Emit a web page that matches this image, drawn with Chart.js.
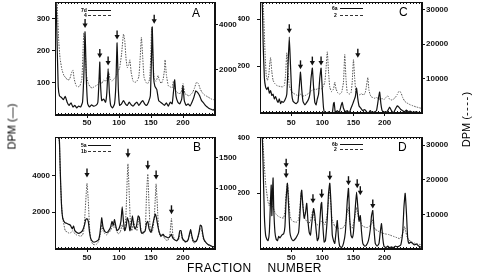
<!DOCTYPE html>
<html>
<head>
<meta charset="utf-8">
<script src="https://cdn.jsdelivr.net/npm/chart.js@4.4.1/dist/chart.umd.min.js"></script>
<style>
  body { margin:0; background:#fff; }
  #wrap { position:relative; width:478px; height:278px; overflow:hidden; background:#fff; font-family:"Liberation Sans", Arial, sans-serif; color:#000; }
  canvas { position:absolute; }
  .txt { position:absolute; line-height:1; white-space:nowrap; }
  .letter { font-size:12px; }
  .leg { font-size:5px; font-weight:bold; }
  .ln { position:absolute; height:0; width:23px; border-top:1px solid #111; }
  .ln.d { border-top:1px dashed #333; }
</style>
</head>
<body>
<div id="wrap">
  <canvas id="cA" width="240" height="128" style="left:0;top:0"></canvas>
  <canvas id="cC" width="240" height="128" style="left:238px;top:0"></canvas>
  <canvas id="cB" width="240" height="150" style="left:0;top:128px"></canvas>
  <canvas id="cD" width="240" height="150" style="left:238px;top:128px"></canvas>

  <div class="txt letter" style="left:192px;top:7px">A</div>
  <div class="txt letter" style="left:399px;top:6px">C</div>
  <div class="txt letter" style="left:193px;top:141px">B</div>
  <div class="txt letter" style="left:398px;top:141px">D</div>

  <div class="txt leg" style="left:81px;top:8px">7d</div><div class="ln" style="left:88px;top:10px"></div>
  <div class="txt leg" style="left:84px;top:13px">4</div><div class="ln d" style="left:88px;top:15px"></div>
  <div class="txt leg" style="left:332px;top:6px">6a</div><div class="ln" style="left:340px;top:8px"></div>
  <div class="txt leg" style="left:334px;top:13px">2</div><div class="ln d" style="left:340px;top:15px"></div>
  <div class="txt leg" style="left:81px;top:143px">5a</div><div class="ln" style="left:88px;top:145px"></div>
  <div class="txt leg" style="left:81px;top:149px">1b</div><div class="ln d" style="left:88px;top:151px"></div>
  <div class="txt leg" style="left:332px;top:142px">6b</div><div class="ln" style="left:340px;top:144px"></div>
  <div class="txt leg" style="left:334px;top:147px">2</div><div class="ln d" style="left:340px;top:149px"></div>

  <div class="txt" style="left:-13px;top:121px;font-size:11px;transform:rotate(-90deg);width:50px;text-align:center">DPM (—)</div>
  <div class="txt" style="left:435px;top:114px;font-size:11px;transform:rotate(-90deg);width:62px;text-align:center">DPM (<span style="letter-spacing:1.5px">----</span>)</div>
  <div class="txt" style="left:187px;top:262px;font-size:12px;letter-spacing:0.4px">FRACTION<span style="display:inline-block;width:16px"></span>NUMBER</div>
</div>

<script>
// ── tick labels ──
const X_TICKS = [50, 100, 150, 200];
const LEFT_TICKS_A = [100, 200, 300];
const RIGHT_TICKS_A = [2000, 4000];
const LEFT_TICKS_B = [2000, 4000];
const RIGHT_TICKS_B = [500, 1000, 1500];
const LEFT_TICKS_C = [200, 400];
const RIGHT_TICKS_C = [10000, 20000, 30000];
const LEFT_TICKS_D = [200, 400];
const RIGHT_TICKS_D = [10000, 20000, 30000];

// ── panel A: 7d (solid, left) and 4 (dashed, right) ──
const FRAC_A_SOLID = [1,3,5,7,10,13,16,19,22,25,28,31,34,37,40,43,45,47,49,51,54,57,60,64,67,69,70,71,73,76,79,81,83,85,87,90,93,95,97,99,101,104,107,110,113,116,119,122,125,128,131,134,137,140,143,146,149,151,152,154,156,159,162,165,168,171,174,177,180,183,185,187,189,192,195,198,200,202,205,208,211,214,217,220,223,226,229,232,235,238,241,244,247,250];
const DPM_A_SOLID  = [420,250,90,60,55,48,58,40,30,38,25,30,22,28,25,40,120,260,110,35,25,32,28,30,40,120,165,100,45,50,40,70,145,70,30,22,35,90,225,80,30,35,45,35,30,40,32,28,35,40,30,38,45,35,30,40,60,200,275,120,90,80,45,40,35,30,38,28,40,35,70,110,60,40,35,50,90,45,30,35,28,40,55,75,70,60,45,38,30,25,20,18,15,20];
const FRAC_A_DASH  = [2,4,6,8,11,14,17,20,23,26,28,30,33,36,39,42,44,45,47,49,52,55,58,61,64,67,70,73,76,79,82,84,86,89,92,95,98,101,104,107,109,111,113,115,117,119,122,125,128,131,133,135,137,139,142,145,148,150,151,153,155,158,161,163,166,169,171,172,174,177,180,183,185,188,191,194,197,200,203,206,209,212,215,218,221,224,227,230,233,236,239,242,245,248,250];
const DPM_A_DASH   = [6000,4500,3200,2500,2000,1750,1650,1550,1600,1900,2000,1600,1300,1250,1300,1600,3000,3650,3000,1800,1400,1250,1200,1250,1300,1350,1500,1400,1550,1500,1700,1900,1600,1500,1600,1700,1900,2100,2700,3600,3300,2500,2100,2200,2450,1900,1500,1450,1500,1700,2500,3450,2600,1700,1450,1400,1600,3000,3900,2500,1600,1500,1750,1550,1400,1600,2000,2450,1800,1300,1250,1200,1500,1100,1000,950,1000,1400,950,900,850,900,1000,1200,1450,1400,1150,1000,900,850,800,750,700,680,670];
const ARROW_A_FRAC = [47, 70, 83, 97, 155];
const ARROW_A_TIP  = [272, 178, 155, 236, 285];

// ── panel B: 5a (solid, left) and 1b (dashed, right) ──
const FRAC_B_SOLID = [2,5,7,8,10,12,15,18,21,24,27,29,31,34,37,40,43,46,48,50,52,54,56,59,62,65,68,70,72,73,75,78,81,84,87,89,91,93,95,97,100,103,105,107,109,111,113,115,117,119,121,123,125,127,130,132,134,136,138,141,143,145,147,150,152,155,157,159,161,163,166,169,171,174,177,180,182,184,187,190,193,195,197,199,202,205,208,210,212,214,216,219,222,225,227,229,231,233,236,239,242,245,248,250];
const DPM_B_SOLID  = [7000,6500,5800,4500,2500,1700,1450,1400,1350,1300,1100,1250,1000,900,850,900,1000,1300,1600,1650,1500,900,550,400,380,420,500,800,1400,1700,1200,950,900,1000,1200,1500,1300,1600,1250,1000,1100,1500,2300,1500,1000,1200,1700,1500,1000,1300,1800,1300,1100,1200,1800,1700,1000,850,900,1000,1400,1500,1100,900,1200,1700,1900,1600,1200,900,700,800,700,650,600,700,800,600,500,450,600,1000,1000,600,450,400,500,800,1050,700,450,400,500,900,1300,1250,800,500,350,250,200,150,120,100];
const FRAC_B_DASH  = [2,5,7,9,11,13,16,19,22,25,28,31,34,37,40,43,45,47,49,50,52,54,56,59,62,65,68,71,73,75,78,81,84,87,90,92,94,96,99,102,105,107,109,111,113,114,116,118,120,123,125,128,131,133,135,138,141,143,145,147,149,152,155,157,158,160,162,165,168,170,173,176,179,181,182,184,187,190,193,195,197,199,202,205,208,210,212,214,216,219,222,225,227,229,231,233,236,239,242,245,248,250];
const DPM_B_DASH   = [2100,2000,1700,1000,600,450,300,280,260,270,300,250,230,220,210,230,300,600,950,1080,800,350,150,80,70,80,120,250,400,300,250,230,280,300,400,350,420,300,250,280,400,330,300,600,1200,1400,900,400,300,450,350,300,500,400,300,250,300,900,1230,700,300,280,500,900,1070,700,300,200,250,200,150,140,200,400,500,250,150,130,150,250,280,160,120,110,150,230,280,170,110,100,150,250,330,320,200,130,100,70,55,45,35,30];
const ARROW_B_FRAC = [50, 114, 145, 158, 182];
const ARROW_B_TIP  = [3890, 4970, 4320, 3780, 1890];

// ── panel C: 6a (solid, left) and 2 (dashed, right) ──
const FRAC_C_SOLID = [1,3,5,7,9,11,13,15,17,19,21,23,25,27,29,31,33,35,37,40,43,45,47,49,51,53,55,58,61,63,65,67,69,72,75,78,80,82,84,86,88,90,92,94,96,98,100,102,104,108,110,113,116,118,119,121,124,127,130,132,134,137,140,143,146,149,151,153,155,157,159,162,165,168,171,174,177,180,184,187,190,192,194,196,199,202,205,208,211,214,217,220,223,226,229,232,235,238,241,245,250,255,260];
const DPM_C_SOLID  = [600,550,300,150,110,100,110,85,95,75,80,60,70,55,45,60,40,50,45,55,80,200,323,200,80,50,45,40,50,110,174,100,50,35,45,60,80,150,191,110,45,35,60,80,150,191,100,20,0,0,5,0,0,40,45,0,10,0,30,45,20,5,10,0,20,40,55,70,106,60,30,20,10,15,5,0,10,0,5,10,60,89,40,10,5,0,10,25,10,0,15,30,25,15,10,5,12,5,8,3,5,2,0];
const FRAC_C_DASH  = [1,4,6,8,10,12,14,16,17,19,21,24,27,30,33,36,39,41,43,45,47,50,53,56,59,62,65,68,71,74,77,80,83,86,89,92,95,98,101,104,106,108,110,112,115,118,120,122,125,128,131,134,136,138,140,143,146,148,150,152,154,157,160,163,166,169,171,173,175,178,181,184,187,190,193,196,199,202,205,208,211,214,217,220,223,226,229,232,235,238,241,244,247,250,254,258,260];
const DPM_C_DASH   = [40000,35000,28000,18000,11000,9500,11000,15000,16100,12000,9500,8500,8000,7800,7700,7600,8000,11000,17500,12000,8000,6500,5800,5500,5200,5000,5500,4900,5000,5200,5600,6000,6500,7000,6800,7000,7200,6900,7500,9000,13000,17800,12000,7500,6200,7000,9000,7000,5800,5500,6000,9000,17000,10000,6000,5500,5800,9000,15500,10000,6000,5500,5300,5600,5200,6000,8000,10300,6500,4800,4500,4300,4500,4200,4000,4200,3900,4500,5000,4000,3800,4000,4500,5300,6300,6000,4500,3500,3000,2700,2400,2200,2000,1800,1600,1400,1300];
const ARROW_C_FRAC = [47, 65, 84, 98, 157];
const ARROW_C_TIP  = [340, 186, 202, 202, 235];

// ── panel D: 6b (solid, left) and 2 (dashed, right) ──
const FRAC_D_SOLID = [1,3,5,7,9,11,13,15,17,18,19,20,21,22,24,26,28,30,32,35,38,40,42,44,46,48,50,53,56,59,62,64,66,67,69,71,73,75,77,79,81,83,85,86,88,90,92,94,96,98,99,101,103,105,108,110,112,114,116,118,120,122,124,126,128,131,134,137,140,142,144,146,148,150,153,155,157,159,161,163,165,168,171,174,177,179,181,183,185,188,191,193,195,197,199,202,205,208,211,214,217,220,223,226,229,231,233,235,237,239,242,245,248,251,254,257,260];
const DPM_D_SOLID  = [500,450,300,120,50,35,30,60,180,229,120,200,255,150,60,35,30,45,40,50,55,80,180,236,150,60,40,30,35,45,60,120,200,211,150,110,130,164,100,60,50,90,130,145,120,70,30,40,100,160,167,80,25,30,110,200,236,160,50,30,20,60,102,40,10,5,20,60,170,218,110,50,40,60,150,204,150,100,120,60,20,10,15,30,70,120,138,70,20,10,20,60,91,40,10,5,10,5,8,5,10,8,10,15,60,150,200,130,40,20,25,20,15,18,12,8,5];
const FRAC_D_DASH  = [1,3,5,7,9,11,13,15,17,19,21,23,26,29,32,35,38,40,42,44,46,48,50,53,56,59,62,64,66,68,70,72,75,78,81,83,85,87,89,92,95,98,101,104,107,110,112,114,116,118,120,123,126,129,132,135,138,140,142,144,146,148,150,153,155,157,159,161,163,166,169,172,175,178,180,182,185,188,191,194,197,200,203,206,209,212,215,218,221,224,227,230,232,234,236,239,242,245,248,251,254,257,260];
const DPM_D_DASH   = [40000,36000,30000,24000,19000,16000,13500,12500,15000,13000,12000,11000,10000,9500,9200,9000,9000,11000,16000,19000,15000,10000,8500,8000,7800,7800,8500,12000,16000,14000,11000,9000,8000,7400,8000,10000,11000,9000,7500,7000,7200,8000,7800,7000,9000,14000,17000,12000,8000,7500,6500,6200,6000,5900,6000,6500,8000,11000,12000,8000,6200,6000,7500,10000,12000,10000,8000,8500,7000,6500,6300,6200,6500,7000,8500,7000,5600,5400,5000,4800,4600,4400,4300,4200,4000,3800,3600,3400,3200,3000,3500,5000,6500,5000,3500,2600,2200,1900,1700,1500,1400,1300,1200];
const ARROW_D_FRAC = [42, 42, 85, 99, 112, 142, 156, 161, 181];
const ARROW_D_TIP  = [292, 255, 164, 182, 247, 229, 218, 193, 145];

const INK = '#111';
const TICK_FONT = { family: 'Liberation Sans', size: 8, weight: 'bold' };

function pts(fracs, vals) {
  return fracs.map((f, i) => ({ x: f, y: vals[i] }));
}

// frame top edge + fine ticks along top and bottom borders
const framePlugin = {
  id: 'frame',
  afterDraw(chart) {
    const { ctx, chartArea: a, scales } = chart;
    ctx.save();
    ctx.strokeStyle = INK;
    ctx.lineWidth = 1;
    ctx.strokeRect(a.left + 0.5, a.top + 0.5, a.right - a.left - 1, a.bottom - a.top - 1);
    ctx.beginPath();
    for (let v = 5; v < scales.x.max; v += 5) {
      const px = Math.round(scales.x.getPixelForValue(v)) + 0.5;
      ctx.moveTo(px, a.top); ctx.lineTo(px, a.top + 2);
      ctx.moveTo(px, a.bottom); ctx.lineTo(px, a.bottom - 2);
    }
    ctx.stroke();
    ctx.restore();
  }
};

// down arrows above marked peaks
const arrowPlugin = {
  id: 'arrows',
  afterDatasetsDraw(chart, args, opts) {
    const { ctx, scales } = chart;
    ctx.save();
    ctx.strokeStyle = INK;
    ctx.fillStyle = INK;
    ctx.lineWidth = 1.4;
    opts.fracs.forEach((f, i) => {
      const x = scales.x.getPixelForValue(f);
      const y = scales.yL.getPixelForValue(opts.tips[i]);
      ctx.beginPath();
      ctx.moveTo(x, y - 9); ctx.lineTo(x, y - 3);
      ctx.stroke();
      ctx.beginPath();
      ctx.moveTo(x - 2.6, y - 4.5); ctx.lineTo(x + 2.6, y - 4.5); ctx.lineTo(x, y);
      ctx.closePath();
      ctx.fill();
    });
    ctx.restore();
  }
};

function fixedTicks(list) {
  return s => { s.ticks = list.map(v => ({ value: v })); };
}

const plain = v => String(v);

function panel(id, p) {
  new Chart(document.getElementById(id), {
    type: 'line',
    data: {
      datasets: [
        { data: pts(p.solidF, p.solidV), yAxisID: 'yL', borderColor: INK, borderWidth: 1.2, pointRadius: 0, tension: 0.15 },
        { data: pts(p.dashF, p.dashV), yAxisID: 'yR', borderColor: '#555', borderWidth: 1, borderDash: [1.5, 1.2], pointRadius: 0, tension: 0.15 }
      ]
    },
    options: {
      responsive: false,
      animation: false,
      devicePixelRatio: 1,
      layout: { padding: { top: p.padTop, left: 0, right: 0, bottom: 0 } },
      plugins: {
        legend: { display: false },
        tooltip: { enabled: false },
        arrows: { fracs: p.arrowF, tips: p.arrowT }
      },
      scales: {
        x: {
          type: 'linear', min: 0, max: p.xMax,
          afterBuildTicks: fixedTicks(X_TICKS),
          afterFit: s => { s.height = p.bottomH; s.paddingLeft = 0; s.paddingRight = 0; },
          ticks: { font: TICK_FONT, color: INK, padding: p.xPad, maxRotation: 0, autoSkip: false, callback: plain },
          grid: { drawOnChartArea: false, tickLength: 3, color: INK },
          border: { color: INK, width: 1 }
        },
        yL: {
          position: 'left', min: 0, max: p.leftMax,
          afterBuildTicks: fixedTicks(p.leftTicks),
          afterFit: s => { s.width = p.leftW; s.paddingTop = 0; s.paddingBottom = 0; },
          ticks: { font: TICK_FONT, color: INK, padding: p.leftPad, callback: plain },
          grid: { drawOnChartArea: false, tickLength: 3, color: INK },
          border: { color: INK, width: 1 }
        },
        yR: {
          position: 'right', min: 0, max: p.rightMax,
          afterBuildTicks: fixedTicks(p.rightTicks),
          afterFit: s => { s.width = p.rightW; s.paddingTop = 0; s.paddingBottom = 0; },
          ticks: { font: TICK_FONT, color: INK, padding: 1, callback: plain },
          grid: { drawOnChartArea: false, tickLength: 3, color: INK },
          border: { color: INK, width: 1 }
        }
      }
    },
    plugins: [framePlugin, arrowPlugin]
  });
}

panel('cA', {
  solidF: FRAC_A_SOLID, solidV: DPM_A_SOLID, dashF: FRAC_A_DASH, dashV: DPM_A_DASH,
  arrowF: ARROW_A_FRAC, arrowT: ARROW_A_TIP,
  xMax: 250, leftMax: 353, rightMax: 5020, leftTicks: LEFT_TICKS_A, rightTicks: RIGHT_TICKS_A,
  padTop: 2, bottomH: 13, leftW: 55, rightW: 25, xPad: 0, leftPad: 2
});
panel('cC', {
  solidF: FRAC_C_SOLID, solidV: DPM_C_SOLID, dashF: FRAC_C_DASH, dashV: DPM_C_DASH,
  arrowF: ARROW_C_FRAC, arrowT: ARROW_C_TIP,
  xMax: 260, leftMax: 473, rightMax: 32300, leftTicks: LEFT_TICKS_C, rightTicks: RIGHT_TICKS_C,
  padTop: 2, bottomH: 15, leftW: 22, rightW: 56, xPad: 2, leftPad: 7
});
panel('cB', {
  solidF: FRAC_B_SOLID, solidV: DPM_B_SOLID, dashF: FRAC_B_DASH, dashV: DPM_B_DASH,
  arrowF: ARROW_B_FRAC, arrowT: ARROW_B_TIP,
  xMax: 250, leftMax: 6100, rightMax: 1840, leftTicks: LEFT_TICKS_B, rightTicks: RIGHT_TICKS_B,
  padTop: 9, bottomH: 29, leftW: 55, rightW: 25, xPad: 1, leftPad: 2
});
panel('cD', {
  solidF: FRAC_D_SOLID, solidV: DPM_D_SOLID, dashF: FRAC_D_DASH, dashV: DPM_D_DASH,
  arrowF: ARROW_D_FRAC, arrowT: ARROW_D_TIP,
  xMax: 260, leftMax: 402, rightMax: 32400, leftTicks: LEFT_TICKS_D, rightTicks: RIGHT_TICKS_D,
  padTop: 9, bottomH: 29, leftW: 22, rightW: 56, xPad: 1, leftPad: 7
});
</script>
</body>
</html>
